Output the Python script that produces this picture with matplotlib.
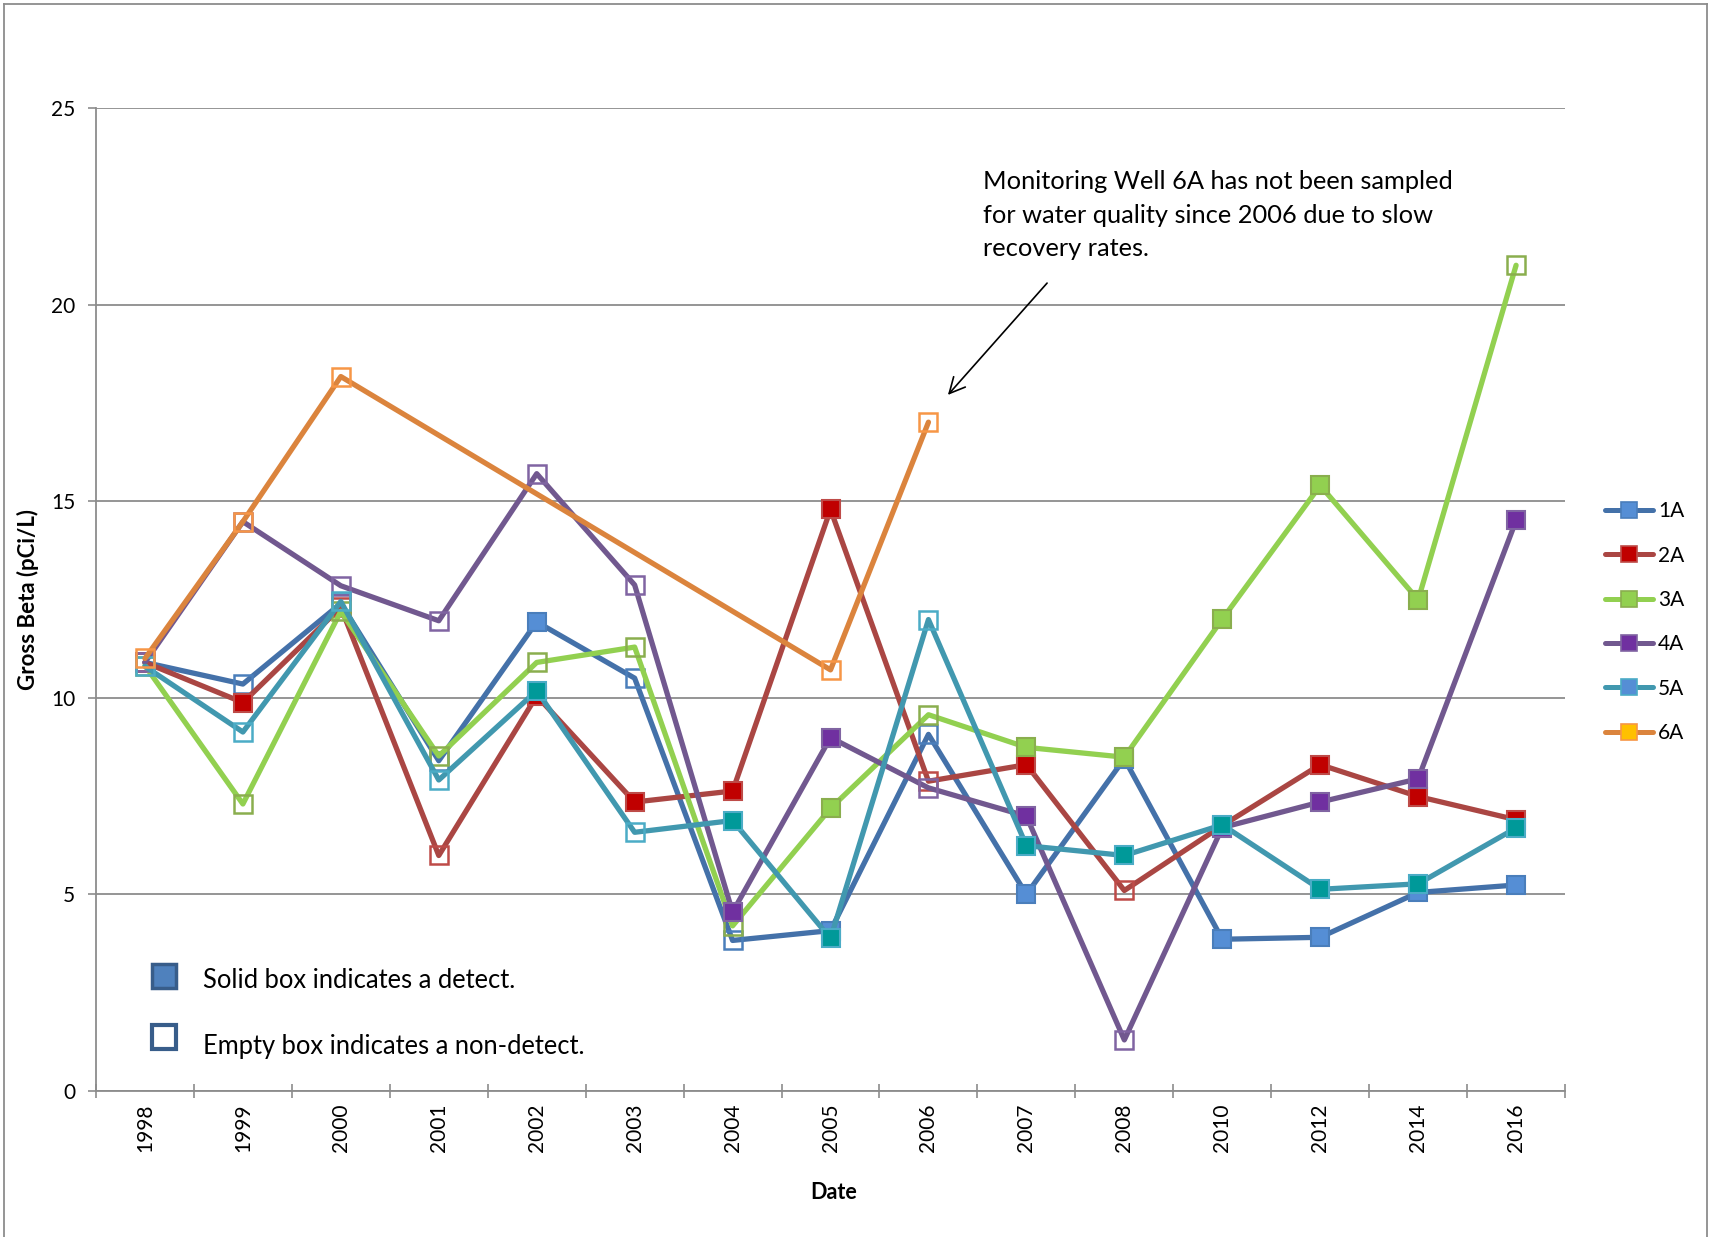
import numpy as np
import matplotlib
matplotlib.use("Agg")
import matplotlib.pyplot as plt
from matplotlib.lines import Line2D

plt.rcParams['font.family'] = ['Lato', 'DejaVu Sans']

# Sampling dates (categorical axis)
years = ["1998", "1999", "2000", "2001", "2002", "2003", "2004", "2005",
         "2006", "2007", "2008", "2010", "2012", "2014", "2016"]

# Gross beta results, pCi/L (NaN = not sampled)
well_1a = [10.9, 10.35, 12.4, 8.4, 11.93, 10.5, 3.83, 4.08, 9.07, 5.0, 8.45, 3.86, 3.91, 5.05, 5.24]
well_2a = [10.9, 9.88, 12.3, 5.99, 10.05, 7.35, 7.63, 14.79, 7.88, 8.3, 5.1, 6.75, 8.3, 7.49, 6.9]
well_3a = [10.82, 7.3, 12.2, 8.52, 10.9, 11.29, 4.2, 7.19, 9.57, 8.74, 8.49, 12.0, 15.4, 12.49, 21.0]
well_4a = [10.9, 14.48, 12.85, 11.96, 15.7, 12.87, 4.55, 8.99, 7.71, 6.99, 1.3, 6.7, 7.35, 7.94, 14.51]
well_5a = [10.8, 9.13, 12.45, 7.91, 10.18, 6.58, 6.88, 3.88, 11.99, 6.24, 5.99, 6.77, 5.13, 5.27, 6.69]
well_6a = [11.0, 14.48, 18.17, np.nan, np.nan, np.nan, np.nan, 10.71, 17.01,
           np.nan, np.nan, np.nan, np.nan, np.nan, np.nan]

# 1 = detect (solid box), 0 = non-detect (empty box)
det_1a = [0, 0, 0, 0, 1, 0, 0, 1, 0, 1, 1, 1, 1, 1, 1]
det_2a = [0, 1, 0, 0, 1, 1, 1, 1, 0, 1, 0, 1, 1, 1, 1]
det_3a = [0, 0, 0, 0, 0, 0, 0, 1, 0, 1, 1, 1, 1, 1, 0]
det_4a = [0, 0, 0, 0, 0, 0, 1, 1, 0, 1, 0, 1, 1, 1, 1]
det_5a = [0, 0, 0, 0, 1, 0, 1, 1, 0, 1, 1, 1, 1, 1, 1]
det_6a = [0, 0, 0, 0, 0, 0, 0, 0, 0, 0, 0, 0, 0, 0, 0]

series_names = ["1A", "2A", "3A", "4A", "5A", "6A"]

styles = {
    "1A": dict(line="#4471A9", fill="#558ED5", edge="#4A7EBB", lfill="#558ED5"),
    "2A": dict(line="#AA4643", fill="#C00000", edge="#BE4B48", lfill="#C00000"),
    "3A": dict(line="#92D050", fill="#92D050", edge="#8AAE4E", lfill="#92D050"),
    "4A": dict(line="#71588F", fill="#7030A0", edge="#8064A2", lfill="#7030A0"),
    "5A": dict(line="#4198AF", fill="#009999", edge="#4BACC6", lfill="#558ED5"),
    "6A": dict(line="#DB843D", fill="#FFC000", edge="#F79646", lfill="#FFC000"),
}

values = [well_1a, well_2a, well_3a, well_4a, well_5a, well_6a]
detects = [det_1a, det_2a, det_3a, det_4a, det_5a, det_6a]

fig = plt.figure(figsize=(17.11, 12.37), dpi=100)
ax = fig.add_axes([0.0561, 0.118, 0.8586, 0.7947])

x = np.arange(len(years))
ms = 12.5
lw = 3.8

handles = []
for i, (name, vals, det) in enumerate(zip(series_names, values, detects)):
    st = styles[name]
    v = np.asarray(vals, dtype=float)
    d = np.asarray(det, dtype=bool)
    ok = ~np.isnan(v)
    z = 3 + i * 3
    ax.plot(x[ok], v[ok], color=st["line"], lw=lw, zorder=z,
            solid_capstyle='round', solid_joinstyle='round')
    m_fill = ok & d
    m_empty = ok & ~d
    if m_fill.any():
        ax.plot(x[m_fill], v[m_fill], ls='none', marker='s', ms=ms,
                mfc=st["fill"], mec=st["edge"], mew=1.5, zorder=z + 1)
    if m_empty.any():
        ax.plot(x[m_empty], v[m_empty], ls='none', marker='s', ms=ms,
                mfc='none', mec=st["edge"], mew=1.8, zorder=z + 1)
    handles.append(Line2D([], [], color=st["line"], lw=3.6, marker='s', ms=11,
                          mfc=st["lfill"], mec=st["edge"], mew=1.2,
                          solid_capstyle='round'))

# Axes, grid and ticks
ax.set_xlim(-0.5, len(years) - 0.5)
ax.set_ylim(0, 25)
ax.set_yticks([0, 5, 10, 15, 20, 25])
ax.yaxis.grid(True, color="#8C8C8C", lw=1.3)
ax.set_axisbelow(True)
for s in ["top", "right"]:
    ax.spines[s].set_visible(False)
for s in ["left", "bottom"]:
    ax.spines[s].set_color("#8C8C8C")
    ax.spines[s].set_linewidth(1.3)
ax.tick_params(axis='y', direction='out', length=6, width=1.2, color="#8C8C8C",
               labelsize=15, pad=9)
ax.set_xticks(np.arange(-0.5, len(years), 1.0))
ax.set_xticklabels([])
ax.set_xticks(x, minor=True)
ax.set_xticklabels(years, minor=True, rotation=90, fontsize=15)
ax.tick_params(axis='x', which='major', direction='inout', length=10, width=1.2,
               color="#8C8C8C")
ax.tick_params(axis='x', which='minor', length=0, pad=9)

ax.set_ylabel("Gross Beta (pCi/L)", fontsize=16, fontweight='bold')
ax.yaxis.set_label_coords(-0.039, 0.5)
ax.set_xlabel("Date", fontsize=15.5, fontweight='bold')
ax.xaxis.set_label_coords(0.502, -0.093)

# Series legend on the right
fig.legend(handles, series_names, loc='center left',
           bbox_to_anchor=(0.933, 0.497), frameon=False, fontsize=15,
           handlelength=2.3, handletextpad=0.25, labelspacing=1.17,
           borderaxespad=0)

# Note about well 6A
ax.text(8.56, 23.42,
        "Monitoring Well 6A has not been sampled\n"
        "for water quality since 2006 due to slow\n"
        "recovery rates.",
        fontsize=18.3, va='top', ha='left', linespacing=1.56, zorder=40)
ax.annotate("", xy=(8.18, 17.65), xytext=(9.23, 20.6),
            arrowprops=dict(arrowstyle='->', color='black', lw=1.2,
                            mutation_scale=28), zorder=40)

# Key for detect / non-detect markers
ax.plot([0.19], [2.93], ls='none', marker='s', ms=17, mfc="#4F81BD",
        mec="#385D8A", mew=2.5, zorder=40)
ax.plot([0.19], [1.38], ls='none', marker='s', ms=17, mfc="white",
        mec="#385D8A", mew=3.0, zorder=40)
ax.text(0.59, 2.82, "Solid box indicates a detect.", fontsize=18.4,
        va='center', ha='left', zorder=40)
ax.text(0.59, 1.13, "Empty box indicates a non-detect.", fontsize=18.4,
        va='center', ha='left', zorder=40)

# Chart frame
frame_color = "#8C8C8C"
fig.add_artist(Line2D([0.0025, 0.9975], [0.9965, 0.9965], color=frame_color,
                      lw=1.3, transform=fig.transFigure))
fig.add_artist(Line2D([0.0025, 0.0025], [0.0, 0.9965], color=frame_color,
                      lw=1.3, transform=fig.transFigure))
fig.add_artist(Line2D([0.9975, 0.9975], [0.0, 0.9965], color=frame_color,
                      lw=1.3, transform=fig.transFigure))

fig.savefig("out.png", dpi=100)
